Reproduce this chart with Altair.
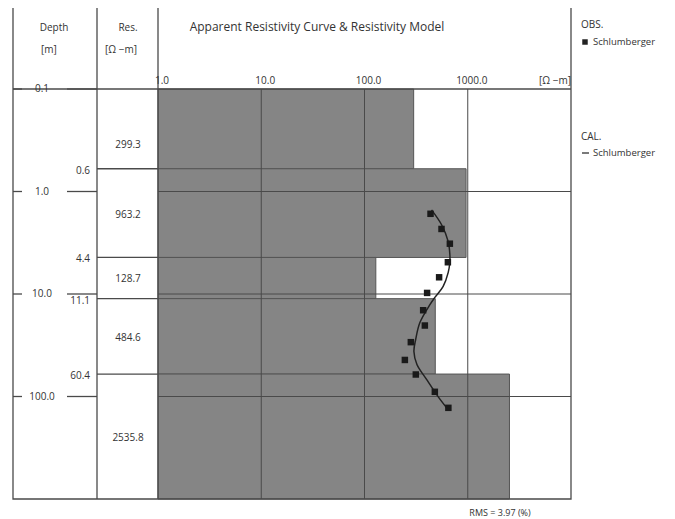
import altair as alt
import pandas as pd

# ---- data ----
layer_top = [0.1, 0.6, 4.4, 11.1, 60.4]
layer_bottom = [0.6, 4.4, 11.1, 60.4, 1000.0]
layer_res = [299.3, 963.2, 128.7, 484.6, 2535.8]
layer_res_labels = ["299.3", "963.2", "128.7", "484.6", "2535.8"]
res_label_depth = [0.35, 1.71, 7.08, 26.6, 256.0]
boundary_depth = [0.6, 4.4, 11.1, 60.4]
boundary_labels = ["0.6", "4.4", "11.1", "60.4"]
depth_ticks = [0.1, 1.0, 10.0, 100.0]
depth_tick_labels = ["0.1", "1.0", "10.0", "100.0"]
res_ticks = [1.0, 10.0, 100.0, 1000.0]
res_tick_labels = ["1.0", "10.0", "100.0", "1000.0"]
obs_depth = [1.65, 2.32, 3.23, 4.9, 6.87, 9.76, 14.4, 20.3, 29.5, 44.0, 61.0, 90.0, 129.0]
obs_res = [436, 557, 671, 642, 528, 404, 370, 384, 281, 246, 314, 480, 649]
cal_depth = [1.51, 2.11, 3.07, 4.13, 4.84, 6.19, 8.42, 10.8, 12.7, 19.0, 27.8, 36.4, 48.7, 68.1, 99.7, 133.5]
cal_res = [446, 558, 646, 671, 671, 646, 578, 480, 430, 344, 313, 301, 322, 399, 514, 642]
axis_min_res = 1.0

FONT = "Open Sans"
LINE = "#4a4a4a"
TXT = "#333333"
W, H = 413, 410

layers_df = pd.DataFrame({"top": layer_top, "bottom": layer_bottom, "res": layer_res,
                          "base": [axis_min_res] * len(layer_res),
                          "lab": layer_res_labels, "labd": res_label_depth})
bound_df = pd.DataFrame({"d": boundary_depth, "lab": boundary_labels})
dtick_df = pd.DataFrame({"d": depth_ticks, "lab": depth_tick_labels})
rtick_df = pd.DataFrame({"r": res_ticks, "lab": res_tick_labels})
obs_df = pd.DataFrame({"d": obs_depth, "r": obs_res})
cal_df = pd.DataFrame({"d": cal_depth, "r": cal_res, "o": list(range(len(cal_depth)))})
one = alt.Data(values=[{}])

xs = alt.Scale(type="log", domain=[1, 10000], nice=False)
ys = alt.Scale(type="log", domain=[0.1, 1000], nice=False, reverse=True)


def X(f):
    return alt.X(f, type="quantitative", scale=xs, axis=None)


def X2(f):
    return alt.X2(f)


def Y(f):
    return alt.Y(f, type="quantitative", scale=ys, axis=None)


bars = alt.Chart(layers_df).mark_rect(fill="#858585", stroke="#555555", strokeWidth=1).encode(
    x=X("base"), x2=X2("res"), y=Y("top"), y2=alt.Y2("bottom"))

# grid lines in plot
hgrid = alt.Chart(dtick_df[dtick_df.d > 0.1]).mark_rule(color=LINE, strokeWidth=1).encode(
    y=Y("d"), x=alt.value(0), x2=alt.value(W))
vgrid = alt.Chart(rtick_df[rtick_df.r > 1]).mark_rule(color=LINE, strokeWidth=1).encode(
    x=X("r"), y=alt.value(0), y2=alt.value(H))

# frame and dividers
frame = alt.Chart(one).mark_rect(fillOpacity=0, stroke=LINE, strokeWidth=1.3).encode(
    x=alt.value(-145), x2=alt.value(W), y=alt.value(-83), y2=alt.value(H))
div1 = alt.Chart(one).mark_rule(color=LINE, strokeWidth=1.3).encode(
    x=alt.value(-61), y=alt.value(-83), y2=alt.value(H))
div2 = alt.Chart(one).mark_rule(color=LINE, strokeWidth=1.3).encode(
    x=alt.value(0), y=alt.value(-83), y2=alt.value(H))
head = alt.Chart(one).mark_rule(color=LINE, strokeWidth=1.3).encode(
    x=alt.value(-145), x2=alt.value(W), y=alt.value(0))

# depth column ticks
dt_left = alt.Chart(dtick_df).mark_rule(color=LINE, strokeWidth=1.3).encode(
    y=Y("d"), x=alt.value(-145), x2=alt.value(-136))
dt_right = alt.Chart(dtick_df).mark_rule(color=LINE, strokeWidth=1.3).encode(
    y=Y("d"), x=alt.value(-91), x2=alt.value(-61))
dt_text = alt.Chart(dtick_df).mark_text(font=FONT, fontSize=10, color=TXT, align="center",
                                        baseline="middle").encode(
    y=Y("d"), x=alt.value(-116), text="lab:N")

# layer boundaries in Res column
b_rule = alt.Chart(bound_df).mark_rule(color=LINE, strokeWidth=1.3).encode(
    y=Y("d"), x=alt.value(-61), x2=alt.value(0))
b_text = alt.Chart(bound_df).mark_text(font=FONT, fontSize=10, color=TXT, align="right",
                                       baseline="middle", dy=2).encode(
    y=Y("d"), x=alt.value(-68), text="lab:N")
r_text = alt.Chart(layers_df).mark_text(font=FONT, fontSize=10, color=TXT, align="center",
                                        baseline="middle").encode(
    y=Y("labd"), x=alt.value(-30), text="lab:N")

# top axis labels
x_text = alt.Chart(rtick_df).mark_text(font=FONT, fontSize=10, color=TXT, align="center",
                                       baseline="middle", dx=4).encode(
    x=X("r"), y=alt.value(-8), text="lab:N")


def label(txt, x, y, size=10, align="center", color=TXT):
    return alt.Chart(one).mark_text(font=FONT, fontSize=size, color=color, align=align,
                                    baseline="middle", text=txt).encode(
        x=alt.value(x), y=alt.value(y))


texts = [
    label("Depth", -104, -61),
    label("[m]", -109, -39),
    label("Res.", -30, -61),
    label("[Ω −m]", -37, -39),
    label("Apparent Resistivity Curve & Resistivity Model", 159, -62, size=12),
    label("[Ω −m]", W, -8, align="right"),
    label("OBS.", 423, -64, align="left"),
    label("Schlumberger", 435, -47, align="left", size=9.5),
    label("CAL.", 423, 48, align="left"),
    label("Schlumberger", 435, 64, align="left", size=9.5),
    label("RMS  =  3.97 (%)", 342, 424, size=9),
]
leg_sq = alt.Chart(one).mark_square(size=30, color="#222222", opacity=1).encode(
    x=alt.value(427), y=alt.value(-47))
leg_ln = alt.Chart(one).mark_rule(color="#222222", strokeWidth=1.2).encode(
    x=alt.value(424), x2=alt.value(431), y=alt.value(64))

cal = alt.Chart(cal_df).mark_line(color="#222222", strokeWidth=1.5, interpolate="catmull-rom").encode(
    x=X("r"), y=Y("d"), order="o:Q")
obs = alt.Chart(obs_df).mark_square(size=42, color="#1a1a1a", opacity=1).encode(
    x=X("r"), y=Y("d"))

chart = alt.layer(
    bars, hgrid, vgrid, frame, div1, div2, head, dt_left, dt_right, dt_text,
    b_rule, b_text, r_text, x_text, *texts, leg_sq, leg_ln, cal, obs
).properties(
    width=W, height=H,
    autosize=alt.AutoSizeParams(type="none"),
    padding={"left": 150, "top": 81, "right": 96, "bottom": 20},
    background="white",
).configure_view(strokeWidth=0)

chart.save("out.html", embed_options={"renderer": "svg", "actions": False})
